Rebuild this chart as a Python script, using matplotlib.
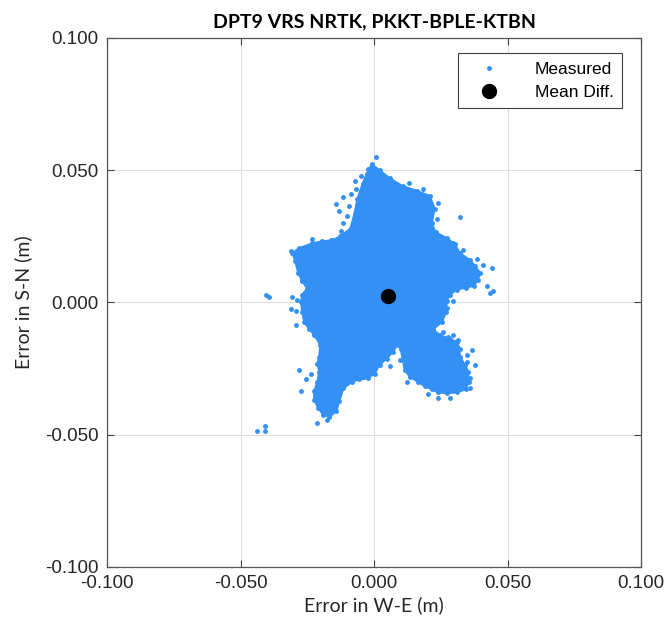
import matplotlib
matplotlib.use("Agg")
import matplotlib.pyplot as plt
from matplotlib.lines import Line2D
import numpy as np

# NRTK position errors, in millimetres (W-E, S-N)
# outline of the dense core of the measured cloud
core_we_mm = [-0.9, 2.1, 5.8, 10.7, 16.0, 20.9, 22.7, 21.6, 23.1, 27.3, 30.3, 32.1,
              35.9, 37.8, 39.7, 38.9, 37.4, 34.4, 31.0, 28.4, 27.3, 26.9, 25.4, 22.0,
              24.6, 28.4, 31.0, 32.1, 32.1, 34.0, 35.2, 35.5, 34.4, 31.0, 27.3, 23.9,
              21.6, 19.0, 16.4, 13.3, 11.5, 10.7, 10.0, 8.8, 7.0, 4.7, 2.1, 0.2,
              -2.4, -5.5, -8.1, -11.5, -13.0, -14.1, -16.7, -19.0, -20.9, -22.4, -22.4, -21.2,
              -20.5, -21.2, -20.5, -20.1, -22.4, -24.2, -26.1, -26.9, -27.3, -26.9, -25.0, -26.9,
              -28.4, -29.5, -30.6, -28.0, -23.1, -19.4, -15.6, -12.6, -8.8, -7.3, -6.2, -4.3,
              -2.8]
core_sn_mm = [52.2, 50.0, 47.0, 44.0, 42.2, 40.3, 35.4, 29.9, 26.5, 24.3, 22.0, 18.7,
              16.0, 13.8, 11.2, 8.6, 6.3, 5.6, 4.9, 3.0, 0.7, -3.7, -7.5, -10.1,
              -12.3, -13.8, -14.9, -17.5, -20.5, -23.5, -26.1, -29.9, -32.8, -34.0, -34.3, -34.0,
              -32.8, -31.7, -29.9, -28.0, -25.4, -21.3, -17.5, -16.0, -18.7, -21.3, -23.5, -26.9,
              -28.7, -29.1, -29.9, -32.5, -37.3, -41.0, -43.3, -42.5, -39.9, -36.9, -33.6, -29.9,
              -26.1, -23.1, -20.5, -16.0, -12.3, -10.1, -7.5, -3.7, 0.0, 3.0, 5.2, 8.2,
              11.2, 15.7, 18.7, 20.5, 22.4, 23.1, 23.5, 25.0, 28.0, 33.6, 39.2, 44.8,
              48.5]

# sparse epochs around the edge of the cloud
edge_we_mm = [0.9, -2.4, -4.7, -7.3, -8.5, -11.8, -14.1, -13.0, -10.0, -11.8, -12.2, -16.0,
              -23.1, -31.0, -28.0, -26.9, -23.5, -40.4, -39.3, -30.6, -28.8, -31.0, -29.1,
              29.5, 40.8, 44.2, 42.3, 43.4, 44.5, 29.5, 27.3, 25.8, 27.6, 29.5, 31.4,
              34.8, 36.7, 34.8, 37.8, 35.9, 28.4, 23.9, 20.1, 9.6, 3.9, -28.0, -27.3,
              -25.4, -23.5, -21.2, -29.1, -43.8, -40.8, -40.8, 32.1, 23.5,
              -9.5, -6.8, 13.0, 18.5, 24.0, 33.5, 38.5, 36.0, 12.5, 6.0, -17.5, -19.5]
edge_sn_mm = [54.9, 50.4, 47.8, 45.9, 41.0, 39.9, 37.3, 34.7, 32.8, 29.9, 27.2, 23.5,
              23.9, 19.4, 12.3, 8.6, 10.4, 3.0, 2.2, 1.9, 1.1, -2.6, -3.4,
              22.4, 14.2, 13.1, 6.3, 3.7, 4.5, 0.7, -1.9, -11.2, -13.1, -12.3, -14.2,
              -19.8, -17.9, -22.4, -23.5, -32.5, -36.2, -36.2, -34.7, -21.6, -20.5, -25.4, -33.6,
              -29.1, -26.9, -45.5, -8.6, -48.5, -46.6, -48.5, 32.5, 31.7,
              36.5, 43.0, 45.0, 43.0, 37.5, 20.0, 16.5, -28.5, -30.0, -24.0, -44.5, -36.0]

mean_we_mm = 5.1
mean_sn_mm = 2.3

BLUE = "#3391f5"

fig = plt.figure(figsize=(6.71, 6.33), dpi=100)
ax = fig.add_axes([0.1595, 0.1043, 0.7958, 0.8357])

cx = np.array(core_we_mm) / 1000.0
cy = np.array(core_sn_mm) / 1000.0
ex = np.array(edge_we_mm) / 1000.0
ey = np.array(edge_sn_mm) / 1000.0

ax.fill(cx, cy, color=BLUE, lw=1.5, zorder=2)
ax.plot(cx, cy, ".", color=BLUE, ms=5, zorder=2)
ax.plot(ex, ey, ".", color=BLUE, ms=5, zorder=2)
ax.plot(mean_we_mm / 1000.0, mean_sn_mm / 1000.0, "o", color="black", ms=10, zorder=3)

ax.set_xlim(-0.1, 0.1)
ax.set_ylim(-0.1, 0.1)
ticks = [-0.1, -0.05, 0.0, 0.05, 0.1]
ax.set_xticks(ticks)
ax.set_yticks(ticks)
ax.set_xticklabels([f"{t:.3f}" for t in ticks])
ax.set_yticklabels([f"{t:.3f}" for t in ticks])
ax.tick_params(direction="in", length=5, width=0.8, top=True, right=True,
               labelsize=13.5, colors="#404040", labelcolor="#262626", pad=6)
for lab in ax.get_xticklabels() + ax.get_yticklabels():
    lab.set_family("Liberation Sans")
ax.grid(True, color="#dddddd", linewidth=0.8)
ax.set_axisbelow(True)
for sp in ax.spines.values():
    sp.set_color("#555555")
    sp.set_linewidth(0.9)

ax.set_xlabel("Error in W-E (m)", fontsize=14, family="Lato", color="#262626", labelpad=3)
ax.set_ylabel("Error in S-N (m)", fontsize=14, family="Lato", color="#262626", labelpad=9)
ax.set_title("DPT9 VRS NRTK, PKKT-BPLE-KTBN", fontsize=14, family="Lato",
             fontweight="bold", pad=8)

handles = [
    Line2D([0], [0], marker=".", color=BLUE, ls="none", ms=5, label="Measured"),
    Line2D([0], [0], marker="o", color="black", ls="none", ms=10, label="Mean Diff."),
]
leg = ax.legend(handles=handles, loc="upper right", bbox_to_anchor=(0.965, 0.972),
                borderaxespad=0, fancybox=False, edgecolor="#404040", framealpha=1,
                prop={"family": "Liberation Sans", "size": 12.5}, handletextpad=1.3,
                labelspacing=0.45, borderpad=0.5, handlelength=2.6)
leg.get_frame().set_linewidth(0.8)

fig.savefig("out.png", dpi=100)
